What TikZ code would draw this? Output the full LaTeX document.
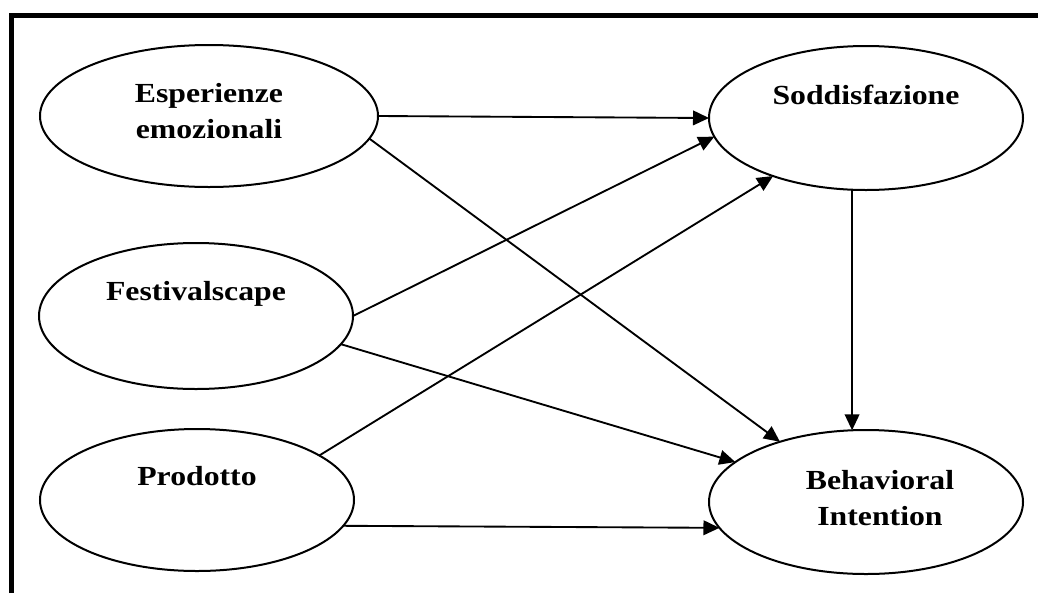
\documentclass[tikz,border=0pt]{standalone}
\usepackage{fontspec}
\setmainfont{Liberation Serif}[FakeStretch=1.15]
\usetikzlibrary{shapes.geometric,arrows.meta}

\tikzset{
  construct/.style={draw, ellipse, line width=1.5pt, inner sep=0pt, outer sep=0pt},
  label/.style={font=\fontsize{20.7}{27}\selectfont\bfseries, align=center, inner sep=0pt, anchor=base},
  path/.style={draw, line width=1.4pt, -{Triangle[length=12pt,width=11pt]}},
}

\begin{document}
\begin{tikzpicture}[x=0.75pt,y=-0.75pt]
  \useasboundingbox (0,0) rectangle (1038,593);

  % heavy frame along the top and left edges
  \draw[line width=3.5pt] (11.5,593) -- (11.5,15.5) -- (1038,15.5);

  % constructs
  \node[construct, minimum width=253.5pt, minimum height=106.5pt] (esp)  at (209,116) {};
  \node[construct, minimum width=235.5pt, minimum height=109.5pt] (fest) at (196,316) {};
  \node[construct, minimum width=235.5pt, minimum height=106.5pt] (prod) at (197,500) {};
  \node[construct, minimum width=235.5pt, minimum height=108pt]   (sod)  at (866,118) {};
  \node[construct, minimum width=235.5pt, minimum height=108pt]   (beh)  at (866,502) {};

  % construct names (anchored on the baseline of the last line)
  \node[label] (espT)  at (209,138) {Esperienze\\emozionali};
  \node[label] (festT) at (196,300) {Festivalscape};
  \node[label] (prodT) at (197,485) {Prodotto};
  \node[label] (sodT)  at (866,104) {Soddisfazione};
  \node[label] (behT)  at (880,525) {Behavioral\\Intention};

  % hypothesised paths
  \draw[path] (esp.east)    -- (sod.west);
  \draw[path] (esp.-8.6)    -- (beh.145.7);
  \draw[path] (fest.east)   -- (sod.-173.8);
  \draw[path] (fest.-11.4)  -- (beh.163.8);
  \draw[path] (prod.20.6)   -- (sod.-148.5);
  \draw[path] (prod.-10.5)  -- (beh.-170.6);
  \draw[path] (sod.-101.8)  -- (beh.101.8);
\end{tikzpicture}
\end{document}
